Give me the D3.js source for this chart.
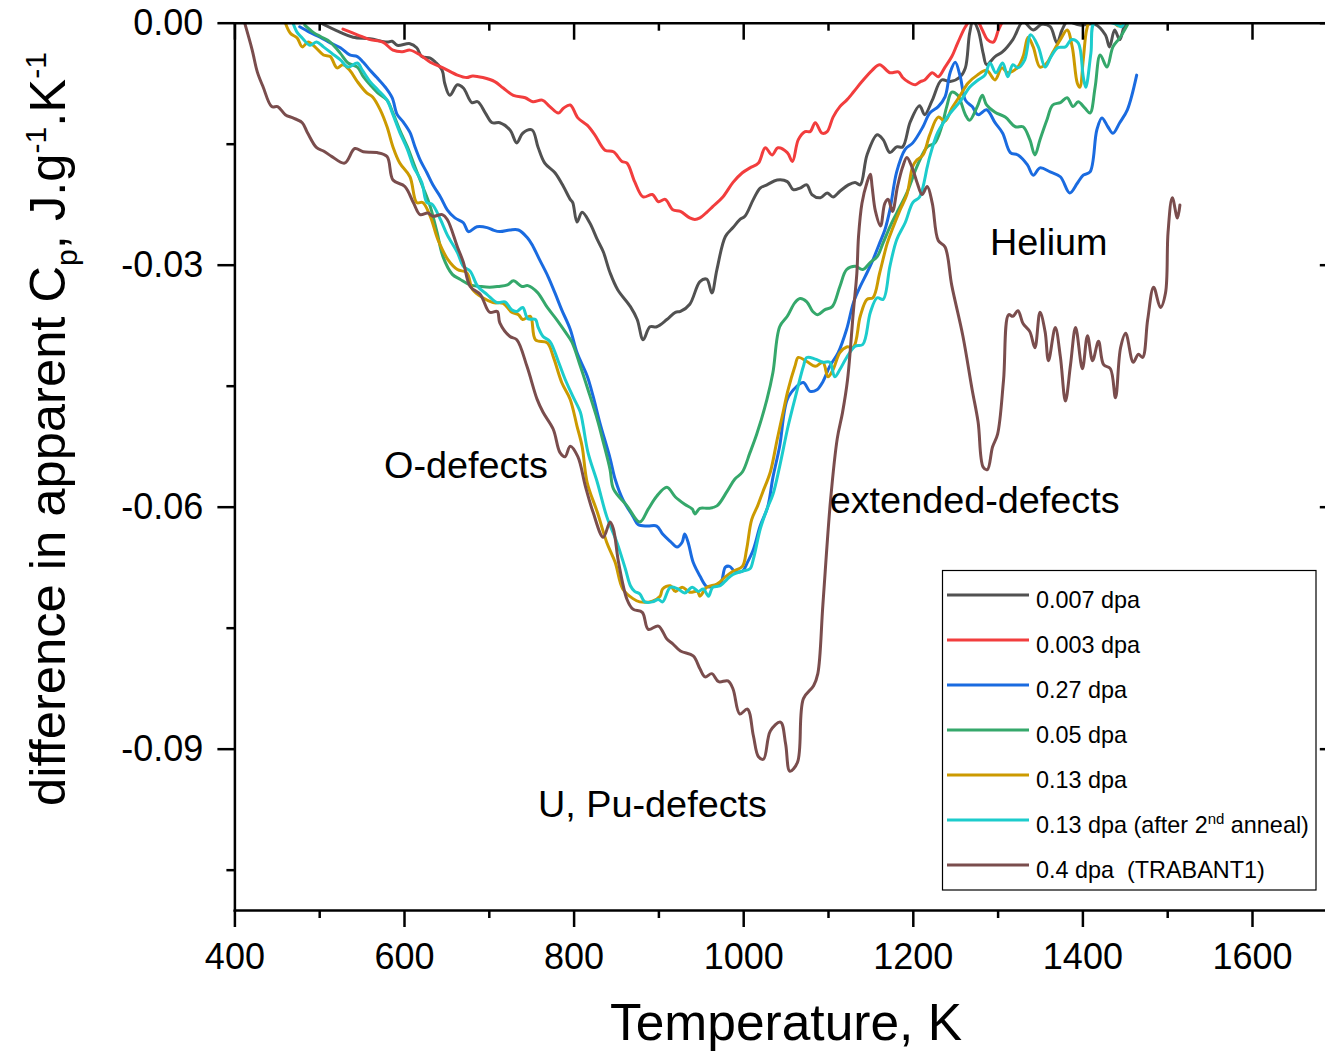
<!DOCTYPE html>
<html>
<head>
<meta charset="utf-8">
<script src="https://cdn.jsdelivr.net/npm/d3@7"></script>
<style>
  html, body { margin: 0; padding: 0; background: #fff; }
  svg { display: block; font-family: "Liberation Sans", Arial, Helvetica, sans-serif; }
</style>
</head>
<body>
<svg id="chart" width="1325" height="1052"></svg>
<script>
// Temperature (K) vs. difference in apparent Cp (J g^-1 K^-1), one array per sample
const dpa0007 = [[501,0],[525,-0.0012],[540,-0.0018],[560,-0.0020],[580,-0.0024],[586,-0.0023],[592,-0.0028],[607,-0.0026],[615,-0.0031],[621,-0.0042],[631,-0.0044],[637,-0.0049],[645,-0.0059],[648,-0.0075],[654,-0.0090],[663,-0.0077],[670,-0.0081],[680,-0.0099],[687,-0.0098],[696,-0.0112],[704,-0.0124],[713,-0.0124],[725,-0.0133],[733,-0.0149],[740,-0.0137],[751,-0.0133],[758,-0.0154],[766,-0.0174],[778,-0.0186],[788,-0.0203],[796,-0.0219],[799,-0.0223],[804,-0.0247],[810,-0.0235],[819,-0.0248],[828,-0.0269],[835,-0.0284],[843,-0.0310],[852,-0.0331],[867,-0.0352],[875,-0.0368],[882,-0.0393],[890,-0.0377],[898,-0.0377],[910,-0.0368],[920,-0.0359],[926,-0.0358],[937,-0.0349],[949,-0.0321],[957,-0.0318],[963,-0.0335],[969,-0.0306],[979,-0.0265],[988,-0.0254],[996,-0.0244],[1002,-0.0240],[1012,-0.0219],[1020,-0.0205],[1028,-0.0201],[1040,-0.0195],[1052,-0.0197],[1059,-0.0207],[1067,-0.0205],[1075,-0.0201],[1081,-0.0213],[1091,-0.0217],[1099,-0.0211],[1106,-0.0216],[1114,-0.0209],[1124,-0.0201],[1132,-0.0198],[1138,-0.0201],[1146,-0.0164],[1158,-0.0139],[1165,-0.0145],[1173,-0.0161],[1181,-0.0154],[1188,-0.0154],[1197,-0.0123],[1208,-0.0103],[1214,-0.0114],[1223,-0.0096],[1234,-0.0071],[1244,-0.0073],[1256,-0.0067],[1262,-0.0056],[1267,-0.0013],[1271,0.0002],[1277,-0.0009],[1283,-0.0038],[1287,-0.0052],[1297,-0.0042],[1306,-0.0036],[1318,-0.0021],[1330,0.0001],[1342,-0.0009],[1352,-0.0002],[1362,-0.0005],[1370,-0.0025],[1376,-0.0009],[1382,0.0001],[1397,-0.0003],[1415,-0.0002],[1427,-0.0015],[1432,-0.0030],[1438,-0.0009],[1444,-0.0021],[1450,-0.0003],[1456,0.0002]];

const dpa0003 = [[528,-0.0008],[545,-0.0015],[560,-0.0021],[575,-0.0024],[587,-0.0034],[598,-0.0036],[607,-0.0034],[619,-0.0040],[631,-0.0049],[646,-0.0056],[663,-0.0065],[674,-0.0068],[681,-0.0066],[693,-0.0068],[707,-0.0073],[717,-0.0081],[729,-0.0090],[743,-0.0093],[752,-0.0098],[763,-0.0096],[772,-0.0104],[782,-0.0112],[788,-0.0106],[796,-0.0102],[805,-0.0118],[816,-0.0127],[825,-0.0139],[837,-0.0158],[847,-0.0160],[857,-0.0172],[863,-0.0174],[872,-0.0197],[882,-0.0216],[893,-0.0213],[900,-0.0222],[908,-0.0219],[917,-0.0232],[926,-0.0234],[937,-0.0242],[943,-0.0244],[949,-0.0242],[957,-0.0235],[964,-0.0228],[976,-0.0216],[988,-0.0198],[999,-0.0186],[1008,-0.0180],[1018,-0.0174],[1026,-0.0155],[1034,-0.0164],[1041,-0.0155],[1052,-0.0161],[1058,-0.0172],[1065,-0.0145],[1073,-0.0135],[1079,-0.0135],[1085,-0.0124],[1093,-0.0137],[1099,-0.0135],[1106,-0.0117],[1114,-0.0104],[1122,-0.0096],[1130,-0.0086],[1140,-0.0073],[1152,-0.0059],[1161,-0.0052],[1173,-0.0062],[1183,-0.0061],[1188,-0.0068],[1194,-0.0073],[1203,-0.0077],[1209,-0.0073],[1214,-0.0071],[1223,-0.0062],[1230,-0.0067],[1238,-0.0055],[1246,-0.0042],[1253,-0.0025],[1262,-0.0005],[1268,0.0003],[1276,0.0002],[1282,-0.0009],[1288,-0.0021],[1295,-0.0024],[1301,-0.0009],[1306,0.0002]];

const dpa027 = [[477,-0.0005],[489,-0.0012],[501,-0.0018],[513,-0.0025],[525,-0.0031],[536,-0.0040],[545,-0.0042],[552,-0.0049],[560,-0.0059],[568,-0.0068],[578,-0.0080],[586,-0.0093],[592,-0.0114],[599,-0.0123],[607,-0.0136],[613,-0.0154],[619,-0.0170],[627,-0.0186],[634,-0.0201],[643,-0.0216],[651,-0.0232],[660,-0.0242],[670,-0.0248],[676,-0.0259],[686,-0.0253],[698,-0.0254],[705,-0.0257],[713,-0.0259],[725,-0.0257],[735,-0.0257],[745,-0.0266],[752,-0.0277],[760,-0.0294],[770,-0.0315],[778,-0.0335],[786,-0.0356],[796,-0.0380],[804,-0.0409],[816,-0.0438],[823,-0.0463],[831,-0.0496],[843,-0.0540],[849,-0.0566],[858,-0.0591],[870,-0.0612],[876,-0.0622],[887,-0.0624],[898,-0.0624],[905,-0.0634],[914,-0.0643],[922,-0.0650],[928,-0.0644],[931,-0.0634],[935,-0.0644],[941,-0.0669],[949,-0.0686],[957,-0.0699],[964,-0.0699],[973,-0.0696],[979,-0.0675],[984,-0.0674],[990,-0.0680],[999,-0.0680],[1005,-0.0669],[1012,-0.0653],[1020,-0.0624],[1029,-0.0600],[1035,-0.0564],[1043,-0.0525],[1052,-0.0467],[1063,-0.0451],[1071,-0.0446],[1079,-0.0457],[1087,-0.0455],[1094,-0.0445],[1102,-0.0426],[1112,-0.0409],[1122,-0.0380],[1130,-0.0347],[1138,-0.0327],[1146,-0.0310],[1153,-0.0294],[1161,-0.0273],[1167,-0.0257],[1173,-0.0232],[1181,-0.0185],[1191,-0.0157],[1200,-0.0149],[1212,-0.0129],[1220,-0.0112],[1230,-0.0104],[1238,-0.0092],[1244,-0.0062],[1250,-0.0049],[1256,-0.0067],[1262,-0.0096],[1270,-0.0104],[1277,-0.0114],[1287,-0.0108],[1297,-0.0124],[1306,-0.0137],[1315,-0.0161],[1324,-0.0164],[1335,-0.0176],[1342,-0.0189],[1350,-0.0180],[1362,-0.0185],[1374,-0.0191],[1385,-0.0211],[1394,-0.0199],[1401,-0.0189],[1409,-0.0185],[1417,-0.0133],[1423,-0.0118],[1430,-0.0129],[1436,-0.0137],[1444,-0.0124],[1453,-0.0108],[1464,-0.0065]];

const dpa005 = [[483,-0.0003],[493,-0.0012],[503,-0.0018],[513,-0.0024],[525,-0.0038],[534,-0.0050],[545,-0.0055],[552,-0.0067],[560,-0.0077],[569,-0.0087],[580,-0.0096],[587,-0.0112],[595,-0.0133],[604,-0.0154],[613,-0.0179],[622,-0.0203],[631,-0.0228],[639,-0.0260],[646,-0.0290],[657,-0.0312],[666,-0.0318],[678,-0.0325],[690,-0.0327],[701,-0.0328],[711,-0.0327],[722,-0.0325],[729,-0.0320],[739,-0.0327],[746,-0.0326],[757,-0.0334],[769,-0.0353],[780,-0.0368],[790,-0.0383],[798,-0.0396],[808,-0.0426],[817,-0.0455],[828,-0.0492],[835,-0.0520],[843,-0.0554],[847,-0.0578],[863,-0.0599],[878,-0.0619],[888,-0.0603],[898,-0.0587],[910,-0.0576],[920,-0.0588],[931,-0.0597],[940,-0.0603],[943,-0.0609],[949,-0.0602],[959,-0.0602],[969,-0.0599],[981,-0.0581],[990,-0.0566],[999,-0.0557],[1008,-0.0533],[1016,-0.0510],[1028,-0.0467],[1035,-0.0434],[1043,-0.0377],[1052,-0.0364],[1061,-0.0347],[1067,-0.0342],[1075,-0.0346],[1082,-0.0358],[1088,-0.0362],[1096,-0.0356],[1105,-0.0352],[1114,-0.0327],[1122,-0.0306],[1132,-0.0302],[1141,-0.0306],[1150,-0.0297],[1158,-0.0290],[1165,-0.0273],[1173,-0.0253],[1181,-0.0236],[1193,-0.0211],[1205,-0.0178],[1217,-0.0154],[1226,-0.0149],[1234,-0.0129],[1240,-0.0104],[1246,-0.0086],[1253,-0.0090],[1262,-0.0114],[1267,-0.0121],[1276,-0.0104],[1282,-0.0090],[1287,-0.0102],[1297,-0.0111],[1309,-0.0117],[1321,-0.0129],[1330,-0.0129],[1338,-0.0145],[1344,-0.0164],[1350,-0.0145],[1358,-0.0121],[1365,-0.0102],[1374,-0.0099],[1382,-0.0093],[1389,-0.0104],[1395,-0.0098],[1403,-0.0106],[1409,-0.0112],[1415,-0.0080],[1421,-0.0040],[1429,-0.0055],[1436,-0.0030],[1444,-0.0019],[1453,-0.0003]];

const dpa013 = [[460,0],[466,-0.0013],[474,-0.0019],[480,-0.0030],[487,-0.0024],[495,-0.0030],[505,-0.0040],[513,-0.0042],[521,-0.0056],[528,-0.0052],[536,-0.0059],[545,-0.0073],[556,-0.0087],[563,-0.0092],[572,-0.0108],[580,-0.0129],[587,-0.0154],[595,-0.0174],[607,-0.0191],[615,-0.0223],[622,-0.0223],[631,-0.0240],[640,-0.0269],[652,-0.0294],[663,-0.0306],[674,-0.0310],[681,-0.0331],[693,-0.0341],[705,-0.0347],[717,-0.0348],[727,-0.0359],[735,-0.0362],[740,-0.0368],[749,-0.0364],[755,-0.0393],[769,-0.0397],[776,-0.0414],[786,-0.0446],[796,-0.0467],[804,-0.0500],[810,-0.0525],[816,-0.0570],[828,-0.0607],[839,-0.0644],[849,-0.0669],[858,-0.0702],[870,-0.0714],[878,-0.0718],[893,-0.0717],[902,-0.0711],[905,-0.0702],[914,-0.0698],[920,-0.0705],[928,-0.0700],[937,-0.0706],[946,-0.0705],[949,-0.0711],[957,-0.0700],[969,-0.0696],[979,-0.0687],[988,-0.0680],[999,-0.0674],[1004,-0.0653],[1010,-0.0616],[1017,-0.0599],[1023,-0.0582],[1032,-0.0557],[1040,-0.0517],[1046,-0.0488],[1053,-0.0455],[1061,-0.0426],[1065,-0.0415],[1075,-0.0420],[1085,-0.0426],[1094,-0.0421],[1100,-0.0439],[1106,-0.0430],[1114,-0.0409],[1122,-0.0402],[1130,-0.0402],[1138,-0.0364],[1146,-0.0343],[1153,-0.0341],[1161,-0.0310],[1170,-0.0273],[1177,-0.0253],[1185,-0.0232],[1193,-0.0213],[1200,-0.0178],[1205,-0.0170],[1212,-0.0164],[1220,-0.0139],[1230,-0.0117],[1238,-0.0122],[1246,-0.0106],[1256,-0.0090],[1265,-0.0075],[1276,-0.0065],[1287,-0.0059],[1297,-0.0071],[1305,-0.0056],[1312,-0.0062],[1323,-0.0056],[1330,-0.0042],[1336,-0.0018],[1342,-0.0030],[1350,-0.0055],[1358,-0.0050],[1365,-0.0037],[1374,-0.0021],[1382,-0.0009],[1388,-0.0030],[1394,-0.0075],[1397,-0.0080],[1401,-0.0046],[1405,-0.0009],[1409,0.0002],[1436,0.0001],[1442,-0.0004],[1447,0.0002]];

const dpa013anneal = [[469,0],[474,-0.0012],[480,-0.0019],[489,-0.0028],[497,-0.0024],[505,-0.0030],[515,-0.0038],[525,-0.0046],[534,-0.0055],[545,-0.0050],[551,-0.0059],[560,-0.0073],[569,-0.0083],[580,-0.0096],[587,-0.0114],[595,-0.0136],[604,-0.0157],[611,-0.0178],[621,-0.0198],[627,-0.0223],[633,-0.0225],[643,-0.0244],[651,-0.0263],[663,-0.0285],[670,-0.0302],[678,-0.0308],[687,-0.0327],[698,-0.0337],[710,-0.0347],[719,-0.0346],[727,-0.0356],[733,-0.0358],[740,-0.0353],[746,-0.0367],[755,-0.0368],[758,-0.0377],[764,-0.0389],[772,-0.0395],[782,-0.0420],[790,-0.0442],[799,-0.0463],[808,-0.0483],[811,-0.0498],[817,-0.0533],[828,-0.0570],[839,-0.0612],[851,-0.0644],[861,-0.0677],[867,-0.0698],[872,-0.0705],[878,-0.0708],[884,-0.0718],[893,-0.0718],[900,-0.0715],[905,-0.0718],[914,-0.0700],[923,-0.0702],[931,-0.0707],[940,-0.0700],[947,-0.0705],[953,-0.0702],[959,-0.0711],[964,-0.0700],[973,-0.0698],[981,-0.0690],[988,-0.0684],[999,-0.0680],[1008,-0.0677],[1012,-0.0665],[1020,-0.0628],[1028,-0.0603],[1035,-0.0585],[1043,-0.0550],[1053,-0.0500],[1063,-0.0458],[1071,-0.0426],[1075,-0.0415],[1085,-0.0417],[1094,-0.0421],[1102,-0.0421],[1108,-0.0439],[1114,-0.0430],[1122,-0.0415],[1132,-0.0401],[1141,-0.0399],[1150,-0.0359],[1158,-0.0341],[1165,-0.0343],[1173,-0.0302],[1181,-0.0269],[1191,-0.0248],[1200,-0.0223],[1208,-0.0216],[1217,-0.0179],[1220,-0.0166],[1229,-0.0137],[1238,-0.0121],[1245,-0.0111],[1257,-0.0096],[1267,-0.0080],[1277,-0.0071],[1285,-0.0065],[1291,-0.0050],[1298,-0.0062],[1306,-0.0050],[1312,-0.0067],[1318,-0.0052],[1324,-0.0056],[1332,-0.0046],[1339,-0.0015],[1348,-0.0030],[1356,-0.0055],[1363,-0.0042],[1371,-0.0031],[1380,-0.0030],[1387,-0.0021],[1395,-0.0025],[1401,-0.0067],[1404,-0.0080],[1410,-0.0038],[1415,0.0002],[1440,-0.0002],[1446,-0.0005],[1450,0.0002]];

const dpa04 = [[412,0],[421,-0.0034],[427,-0.0061],[434,-0.0080],[444,-0.0104],[451,-0.0104],[460,-0.0114],[469,-0.0118],[480,-0.0124],[486,-0.0136],[497,-0.0155],[505,-0.0159],[515,-0.0166],[530,-0.0174],[542,-0.0156],[552,-0.0160],[568,-0.0161],[580,-0.0166],[587,-0.0195],[601,-0.0203],[611,-0.0223],[619,-0.0238],[628,-0.0236],[634,-0.0240],[645,-0.0238],[651,-0.0244],[663,-0.0278],[670,-0.0297],[678,-0.0327],[690,-0.0337],[701,-0.0359],[710,-0.0358],[713,-0.0372],[725,-0.0389],[733,-0.0393],[745,-0.0426],[757,-0.0467],[764,-0.0483],[776,-0.0504],[784,-0.0533],[790,-0.0538],[796,-0.0525],[805,-0.0538],[814,-0.0575],[823,-0.0607],[835,-0.0638],[843,-0.0619],[847,-0.0628],[853,-0.0669],[863,-0.0715],[870,-0.0727],[881,-0.0731],[888,-0.0752],[900,-0.0748],[910,-0.0764],[917,-0.0770],[926,-0.0779],[941,-0.0785],[949,-0.0801],[955,-0.0811],[963,-0.0807],[971,-0.0817],[982,-0.0816],[988,-0.0826],[996,-0.0857],[1005,-0.0851],[1012,-0.0884],[1018,-0.0910],[1024,-0.0913],[1032,-0.0878],[1044,-0.0867],[1050,-0.0894],[1055,-0.0928],[1064,-0.0917],[1071,-0.0838],[1083,-0.0822],[1088,-0.0807],[1094,-0.0721],[1103,-0.0592],[1111,-0.0515],[1117,-0.0484],[1123,-0.0443],[1130,-0.0357],[1134,-0.0311],[1136,-0.0265],[1140,-0.0224],[1146,-0.0198],[1150,-0.0188],[1152,-0.0203],[1156,-0.0234],[1162,-0.0252],[1167,-0.0224],[1171,-0.0219],[1176,-0.0234],[1182,-0.0203],[1188,-0.0179],[1193,-0.0167],[1199,-0.0179],[1205,-0.0198],[1211,-0.0213],[1217,-0.0203],[1223,-0.0224],[1230,-0.0270],[1238,-0.0278],[1246,-0.0326],[1259,-0.0388],[1270,-0.0455],[1277,-0.0495],[1283,-0.0551],[1288,-0.0554],[1294,-0.0526],[1300,-0.0510],[1307,-0.0443],[1313,-0.0362],[1318,-0.0364],[1324,-0.0357],[1330,-0.0373],[1338,-0.0383],[1344,-0.0403],[1350,-0.0359],[1356,-0.0383],[1360,-0.0419],[1368,-0.0378],[1374,-0.0414],[1380,-0.0469],[1386,-0.0424],[1392,-0.0378],[1400,-0.0429],[1406,-0.0388],[1412,-0.0419],[1419,-0.0395],[1425,-0.0424],[1433,-0.0429],[1439,-0.0465],[1445,-0.0403],[1451,-0.0385],[1460,-0.0421],[1466,-0.0411],[1471,-0.0415],[1477,-0.0368],[1484,-0.0328],[1492,-0.0353],[1498,-0.0335],[1501,-0.0260],[1506,-0.0217],[1512,-0.0242],[1515,-0.0226]];

const seriesLabels = ["0.007 dpa", "0.003 dpa", "0.27 dpa", "0.05 dpa", "0.13 dpa", "0.13 dpa (after 2nd anneal)", "0.4 dpa  (TRABANT1)"];
const seriesValues = [dpa0007, dpa0003, dpa027, dpa005, dpa013, dpa013anneal, dpa04];
const seriesColors = ["#515151", "#f23d3d", "#1a6be0", "#35a86b", "#cc9a00", "#1ccccc", "#7a4d4d"];

const xMajorTicks = [400, 600, 800, 1000, 1200, 1400, 1600];
const xMinorTicks = [500, 700, 900, 1100, 1300, 1500, 1700];
const yMajorTicks = [0, -0.03, -0.06, -0.09];
const yMinorTicks = [-0.015, -0.045, -0.075, -0.105];

const annotationTexts = ["O-defects", "U, Pu-defects", "extended-defects", "Helium"];

// ---------------------------------------------------------------------------
const svg = d3.select("#chart");
const FONT = '"Liberation Sans", Arial, Helvetica, sans-serif';

const x = d3.scaleLinear().domain([400, 1700]).range([234.4, 1336.8]);
const y = d3.scaleLinear().domain([-0.11, 0]).range([910, 22.7]);

const [x0, x1] = x.range();
const [yb, yt] = y.range();

svg.append("rect").attr("width", 1325).attr("height", 1052).attr("fill", "#fff");

svg.append("defs").append("clipPath").attr("id", "plot-clip")
  .append("rect")
  .attr("x", x0).attr("y", yt)
  .attr("width", x1 - x0).attr("height", yb - yt);

// curves
const line = d3.line()
  .x(d => x(d[0]))
  .y(d => y(d[1]))
  .curve(d3.curveCatmullRom.alpha(0.5));

const plot = svg.append("g").attr("clip-path", "url(#plot-clip)");
seriesValues.forEach((vals, i) => {
  plot.append("path")
    .datum(vals)
    .attr("d", line)
    .attr("fill", "none")
    .attr("stroke", seriesColors[i])
    .attr("stroke-width", 3)
    .attr("stroke-linejoin", "round")
    .attr("stroke-linecap", "round");
});

// axes
const fmtY = d => d === 0 ? "0.00" : "-" + Math.abs(d).toFixed(2);

function finish(g, withDomain) {
  g.attr("font-family", FONT).attr("font-size", 36);
  g.selectAll(".tick line").attr("stroke", "#000").attr("stroke-width", 2.5);
  g.selectAll(".tick text").attr("fill", "#000");
  if (withDomain) {
    g.select(".domain").attr("stroke", "#000").attr("stroke-width", 2.5).attr("stroke-linecap", "square");
  } else {
    g.select(".domain").remove();
  }
}

// bottom
svg.append("g").attr("transform", `translate(0,${yb})`)
  .call(d3.axisBottom(x).tickValues(xMajorTicks).tickSize(17).tickSizeOuter(0).tickPadding(16).tickFormat(d3.format("d")))
  .call(g => finish(g, true));
svg.append("g").attr("transform", `translate(0,${yb})`)
  .call(d3.axisBottom(x).tickValues(xMinorTicks).tickSize(8).tickFormat(""))
  .call(g => finish(g, false));

// top (inward ticks)
svg.append("g").attr("transform", `translate(0,${yt})`)
  .call(d3.axisBottom(x).tickValues(xMajorTicks).tickSize(17).tickSizeOuter(0).tickFormat(""))
  .call(g => finish(g, true));
svg.append("g").attr("transform", `translate(0,${yt})`)
  .call(d3.axisBottom(x).tickValues(xMinorTicks).tickSize(8).tickFormat(""))
  .call(g => finish(g, false));

// left
svg.append("g").attr("transform", `translate(${x0},0)`)
  .call(d3.axisLeft(y).tickValues(yMajorTicks).tickSize(17).tickSizeOuter(0).tickPadding(14).tickFormat(fmtY))
  .call(g => finish(g, true));
svg.append("g").attr("transform", `translate(${x0},0)`)
  .call(d3.axisLeft(y).tickValues(yMinorTicks).tickSize(8).tickFormat(""))
  .call(g => finish(g, false));

// right (inward ticks)
svg.append("g").attr("transform", `translate(${x1},0)`)
  .call(d3.axisLeft(y).tickValues(yMajorTicks).tickSize(17).tickSizeOuter(0).tickFormat(""))
  .call(g => finish(g, true));
svg.append("g").attr("transform", `translate(${x1},0)`)
  .call(d3.axisLeft(y).tickValues(yMinorTicks).tickSize(8).tickFormat(""))
  .call(g => finish(g, false));

// axis titles
svg.append("text")
  .attr("x", 786).attr("y", 1040)
  .attr("text-anchor", "middle")
  .attr("font-family", FONT).attr("font-size", 51.5).attr("fill", "#000")
  .text("Temperature, K");

const yTitle = svg.append("text")
  .attr("transform", "translate(65,806) rotate(-90)")
  .attr("text-anchor", "start")
  .attr("font-family", FONT).attr("font-size", 50.7).attr("fill", "#000");
yTitle.append("tspan").text("difference in apparent C");
yTitle.append("tspan").attr("font-size", 30).attr("dy", 12).text("p");
yTitle.append("tspan").attr("dy", -12).text(", J.g");
yTitle.append("tspan").attr("font-size", 30).attr("dy", -19).text("-1");
yTitle.append("tspan").attr("dy", 19).text(".K");
yTitle.append("tspan").attr("font-size", 30).attr("dy", -19).text("-1");

// annotations placed in data coordinates
const annotationAnchors = [[576.5, -0.0565], [758, -0.0985], [1102, -0.0608], [1291, -0.0288]];
annotationTexts.forEach((t, i) => {
  svg.append("text")
    .attr("x", x(annotationAnchors[i][0])).attr("y", y(annotationAnchors[i][1]))
    .attr("font-family", FONT).attr("font-size", 37.8).attr("fill", "#000")
    .text(t);
});

// legend
const legend = svg.append("g").attr("transform", "translate(942.5,570.5)");
legend.append("rect")
  .attr("width", 373.5).attr("height", 319.5)
  .attr("fill", "#fff").attr("stroke", "#000").attr("stroke-width", 1.2);

seriesLabels.forEach((label, i) => {
  const ry = 24.5 + i * 45;
  legend.append("line")
    .attr("x1", 4.5).attr("x2", 86.5).attr("y1", ry).attr("y2", ry)
    .attr("stroke", seriesColors[i]).attr("stroke-width", 3);
  const t = legend.append("text")
    .attr("x", 93.5).attr("y", ry + 12.5)
    .attr("font-family", FONT).attr("font-size", 23.4).attr("fill", "#000");
  const m = label.match(/^(.*\d)(nd)(.*)$/);
  if (m) {
    t.append("tspan").text(m[1]);
    t.append("tspan").attr("font-size", 15).attr("dy", -9).text(m[2]);
    t.append("tspan").attr("dy", 9).text(m[3]);
  } else {
    t.attr("xml:space", "preserve").style("white-space", "pre").text(label);
  }
});
</script>
</body>
</html>
